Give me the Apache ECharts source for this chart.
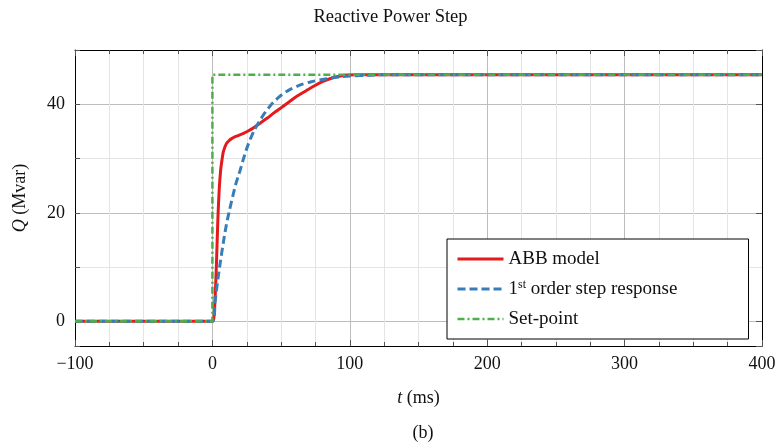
<!DOCTYPE html>
<html>
<head>
<meta charset="utf-8">
<script src="https://cdn.jsdelivr.net/npm/echarts@6/dist/echarts.min.js"></script>
<style>
  html, body { margin: 0; padding: 0; background: #ffffff; }
  #chart { width: 781px; height: 448px; }
</style>
</head>
<body>
<div id="chart"></div>
<script>
// Reactive power step test: time in ms, Q in Mvar

const seriesNames = ['ABB model', '1st order step response', 'Set-point'];

// ABB model response
const abbTime = [-100, 0, 1, 2, 3, 4, 5, 6, 7, 8, 10, 12, 14, 17, 20, 23, 26, 30, 35, 40, 45, 50, 56, 62, 68, 74, 80, 86, 92, 98, 105, 400];
const abbQ    = [0, 0, 0.5, 4.5, 11, 19, 24.5, 27.9, 29.8, 31.3, 32.7, 33.3, 33.7, 34.1, 34.4, 34.7, 35.1, 35.7, 36.6, 37.5, 38.5, 39.4, 40.5, 41.6, 42.5, 43.4, 44.2, 44.8, 45.2, 45.45, 45.5, 45.5];

// first-order step response
const firstOrderTime = [-100, 0, 2, 4, 6, 8, 10, 12, 14, 17, 20, 23, 26, 30, 34, 38, 44, 50, 56, 64, 72, 80, 90, 100, 115, 130, 400];
const firstOrderQ    = [0, 0, 3.8, 7.8, 11.3, 14.6, 17.6, 20.0, 22.2, 25.3, 27.7, 30.3, 32.6, 35.0, 36.8, 38.4, 40.3, 41.7, 42.7, 43.6, 44.2, 44.6, 45.0, 45.25, 45.4, 45.5, 45.5];

// set-point
const setpointTime = [-100, 0, 0, 400];
const setpointQ    = [0, 0, 45.5, 45.5];

// axis ranges
const xRange = [-100, 400];
const yRange = [-4.55, 50.05];
const xStep = 100;
const yMajorStep = 20;
const yMinorStep = 10;

const pairs = (t, q) => t.map((v, i) => [v, q[i]]);

const serif = "'Liberation Serif', 'DejaVu Serif', serif";
const textColor = '#111111';
const majorGrid = '#bdbdbd';
const minorGrid = '#e4e4e4';
const tickColor = '#555555';

const chart = echarts.init(document.getElementById('chart'), null, { renderer: 'canvas' });

const hiddenLabel = { show: false };

chart.setOption({
  animation: false,
  backgroundColor: '#ffffff',
  title: [
    {
      text: 'Reactive Power Step',
      left: 'center',
      top: 3,
      textStyle: { fontFamily: serif, fontSize: 18.5, fontWeight: 'normal', color: textColor }
    },
    {
      text: '(b)',
      left: 418, textAlign: 'center',
      top: 419,
      textStyle: { fontFamily: serif, fontSize: 18, fontWeight: 'normal', color: textColor }
    }
  ],
  grid: { left: 75, right: 19, top: 50, bottom: 102, containLabel: false },
  legend: {
    data: seriesNames,
    orient: 'vertical',
    left: 447,
    top: 239,
    padding: [10, 10, 10, 9],
    itemGap: 10,
    itemWidth: 46,
    itemHeight: 20,
    backgroundColor: '#ffffff',
    borderColor: '#000000',
    borderWidth: 1,
    borderRadius: 0,
    // line-only keys: the marker dot is made fully transparent
    itemStyle: { opacity: 0 },
    lineStyle: { width: 'inherit' },
    formatter: name => name.replace('1st', '1{sup|st}'),
    textStyle: {
      fontFamily: serif,
      fontSize: 19,
      color: textColor,
      width: 230,
      lineHeight: 20,
      rich: {
        sup: { fontFamily: serif, fontSize: 12, color: textColor, verticalAlign: 'top', lineHeight: 20 }
      }
    }
  },
  xAxis: [
    {
      type: 'value',
      position: 'bottom',
      min: xRange[0], max: xRange[1], interval: xStep,
      name: '{i|t} (ms)',
      nameLocation: 'middle',
      nameGap: 43,
      nameTextStyle: {
        fontFamily: serif, fontSize: 18, color: textColor,
        rich: { i: { fontFamily: serif, fontSize: 18, fontStyle: 'italic', color: textColor } }
      },
      axisLine: { show: true, onZero: false, lineStyle: { color: '#000', width: 1 } },
      axisTick: { show: true, inside: true, length: 6, lineStyle: { color: tickColor } },
      minorTick: { show: true, splitNumber: 4, length: 4, lineStyle: { color: tickColor } },
      axisLabel: { fontFamily: serif, fontSize: 18, color: textColor, margin: 9,
                   formatter: v => (v < 0 ? '\u2212' + Math.abs(v) : String(v)) },
      splitLine: { show: true, lineStyle: { color: majorGrid, width: 1 } },
      minorSplitLine: { show: true, lineStyle: { color: minorGrid, width: 1 } }
    },
    {
      type: 'value',
      position: 'top',
      min: xRange[0], max: xRange[1], interval: xStep,
      axisLine: { show: true, onZero: false, lineStyle: { color: '#000', width: 1 } },
      axisTick: { show: true, inside: true, length: 6, lineStyle: { color: tickColor } },
      minorTick: { show: true, splitNumber: 4, length: 4, lineStyle: { color: tickColor } },
      axisLabel: hiddenLabel,
      splitLine: { show: false }
    }
  ],
  yAxis: [
    {
      type: 'value',
      position: 'left',
      min: yRange[0], max: yRange[1],
      minInterval: yMinorStep, maxInterval: yMinorStep,
      name: '{i|Q} (Mvar)',
      nameLocation: 'middle',
      nameGap: 46,
      nameTextStyle: {
        fontFamily: serif, fontSize: 18, color: textColor,
        rich: { i: { fontFamily: serif, fontSize: 18, fontStyle: 'italic', color: textColor } }
      },
      axisLine: { show: true, onZero: false, lineStyle: { color: '#000', width: 1 } },
      axisTick: { show: true, inside: true, length: 5, lineStyle: { color: tickColor } },
      axisLabel: {
        fontFamily: serif, fontSize: 18, color: textColor, margin: 10,
        formatter: v => (Math.abs(v % yMajorStep) < 1e-9 ? String(v) : '')
      },
      splitLine: { show: true, lineStyle: { color: minorGrid, width: 1 } }
    },
    {
      type: 'value',
      position: 'right',
      min: yRange[0], max: yRange[1],
      minInterval: yMajorStep, maxInterval: yMajorStep,
      axisLine: { show: true, onZero: false, lineStyle: { color: '#000', width: 1 } },
      axisTick: { show: true, inside: true, length: 6, lineStyle: { color: tickColor } },
      axisLabel: hiddenLabel,
      splitLine: { show: true, lineStyle: { color: majorGrid, width: 1 } }
    }
  ],
  series: [
    {
      name: seriesNames[0],
      type: 'line',
      xAxisIndex: 0, yAxisIndex: 0,
      data: pairs(abbTime, abbQ),
      symbol: 'none', showSymbol: false,
      smooth: 0.25,
      lineStyle: { color: '#e41a1c', width: 3, type: 'solid' },
      itemStyle: { color: '#e41a1c' },
      z: 3
    },
    {
      name: seriesNames[1],
      type: 'line',
      xAxisIndex: 0, yAxisIndex: 0,
      data: pairs(firstOrderTime, firstOrderQ),
      symbol: 'none', showSymbol: false,
      smooth: 0.25,
      lineStyle: { color: '#377eb8', width: 3, type: [8, 4] },
      itemStyle: { color: '#377eb8' },
      z: 4
    },
    {
      name: seriesNames[2],
      type: 'line',
      xAxisIndex: 0, yAxisIndex: 0,
      data: pairs(setpointTime, setpointQ),
      symbol: 'none', showSymbol: false,
      lineStyle: { color: '#4daf4a', width: 2.5, type: [7, 3, 2, 3] },
      itemStyle: { color: '#4daf4a' },
      z: 5
    }
  ]
});
</script>
</body>
</html>
